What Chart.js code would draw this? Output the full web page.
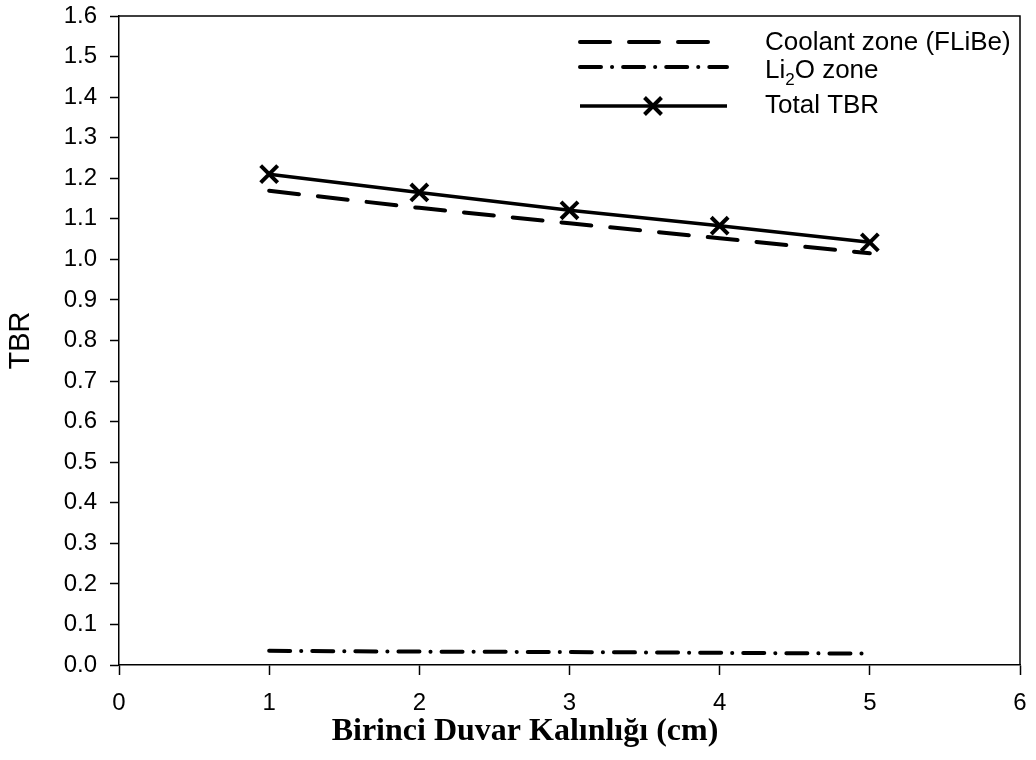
<!DOCTYPE html>
<html>
<head>
<meta charset="utf-8">
<script src="https://cdn.jsdelivr.net/npm/chart.js@4.4.1/dist/chart.umd.min.js"></script>
<style>
  html, body { margin: 0; padding: 0; background: #ffffff; }
  #wrap { width: 1036px; height: 760px; position: relative; }
</style>
</head>
<body>
<div id="wrap"><canvas id="c" width="1036" height="760"></canvas></div>
<script>
// First-wall thickness (cm)
const thickness = [1, 2, 3, 4, 5];
// Tritium breeding ratio per zone
const coolantTBR = [1.169, 1.127, 1.089, 1.052, 1.015];
const li2oTBR = [0.035, 0.033, 0.032, 0.030, 0.028];
const totalTBR = [1.210, 1.165, 1.121, 1.083, 1.042];

const xTitle = 'Birinci Duvar Kalınlığı (cm)';
const yTitle = 'TBR';
const legendRows = [
  { base: 'Coolant zone (FLiBe)' },
  { base: 'Li', sub: '2', rest: 'O zone' },
  { base: 'Total TBR' }
];

const pts = vals => thickness.map((x, i) => ({ x: x, y: vals[i] }));
const SANS = '"Liberation Sans", Arial, sans-serif';
const SERIF = '"Liberation Serif", "Times New Roman", serif';

// Closes the plot frame on top and right
const framePlugin = {
  id: 'frame',
  afterDraw(chart) {
    const { ctx, chartArea: a } = chart;
    ctx.save();
    ctx.strokeStyle = '#000';
    ctx.lineWidth = 1.5;
    ctx.beginPath();
    ctx.moveTo(a.left, a.top);
    ctx.lineTo(a.right, a.top);
    ctx.lineTo(a.right, a.bottom);
    ctx.stroke();
    ctx.restore();
  }
};

// Bold serif caption under the x axis, centred on the page width
const xTitlePlugin = {
  id: 'xCaption',
  afterDraw(chart) {
    const { ctx } = chart;
    ctx.save();
    ctx.fillStyle = '#000';
    ctx.font = 'bold 32px ' + SERIF;
    ctx.textAlign = 'center';
    ctx.textBaseline = 'alphabetic';
    ctx.fillText(xTitle, 525, 740);
    ctx.restore();
  }
};

// Legend with line samples and a subscript for Li2O
const legendPlugin = {
  id: 'subLegend',
  afterDraw(chart) {
    const { ctx } = chart;
    const x0 = 580, x1 = 727, tx = 765;
    const rowsY = [42, 67, 106];
    const textY = [43, 71, 106];
    ctx.save();
    chart.data.datasets.forEach((ds, i) => {
      const y = rowsY[i];
      ctx.strokeStyle = '#000';
      ctx.lineWidth = ds.borderWidth;
      ctx.lineCap = ds.borderCapStyle || 'butt';
      ctx.setLineDash(ds.borderDash || []);
      ctx.beginPath();
      ctx.moveTo(x0, y);
      ctx.lineTo(x1, y);
      ctx.stroke();
      ctx.setLineDash([]);
      if (ds.pointStyle === 'crossRot') {
        const cx = 653, r = 8.5;
        ctx.lineWidth = ds.pointBorderWidth;
        ctx.lineCap = 'butt';
        ctx.beginPath();
        ctx.moveTo(cx - r, y - r); ctx.lineTo(cx + r, y + r);
        ctx.moveTo(cx + r, y - r); ctx.lineTo(cx - r, y + r);
        ctx.stroke();
      }
      const row = legendRows[i];
      ctx.fillStyle = '#000';
      ctx.textBaseline = 'middle';
      ctx.textAlign = 'left';
      ctx.font = '26px ' + SANS;
      let cx = tx;
      ctx.fillText(row.base, cx, textY[i]);
      cx += ctx.measureText(row.base).width;
      if (row.sub) {
        ctx.font = '17px ' + SANS;
        ctx.fillText(row.sub, cx, textY[i] + 9);
        cx += ctx.measureText(row.sub).width;
        ctx.font = '26px ' + SANS;
        ctx.fillText(row.rest, cx, textY[i]);
      }
    });
    ctx.restore();
  }
};

new Chart(document.getElementById('c'), {
  type: 'line',
  data: {
    datasets: [
      {
        label: 'Coolant zone (FLiBe)',
        data: pts(coolantTBR),
        borderColor: '#000',
        borderWidth: 4,
        borderDash: [30, 19],
        borderCapStyle: 'round',
        pointRadius: 0,
        tension: 0
      },
      {
        label: 'Li2O zone',
        data: pts(li2oTBR),
        borderColor: '#000',
        borderWidth: 4,
        borderDash: [21, 11, 0.1, 11],
        borderCapStyle: 'round',
        pointRadius: 0,
        tension: 0
      },
      {
        label: 'Total TBR',
        data: pts(totalTBR),
        borderColor: '#000',
        borderWidth: 3.5,
        pointStyle: 'crossRot',
        pointRadius: 12,
        pointBorderWidth: 4,
        pointBorderColor: '#000',
        pointBackgroundColor: '#000',
        tension: 0
      }
    ]
  },
  options: {
    responsive: false,
    animation: false,
    events: [],
    layout: { padding: { top: 15, right: 15, left: 0, bottom: 0 } },
    plugins: {
      legend: { display: false },
      tooltip: { enabled: false }
    },
    scales: {
      x: {
        type: 'linear',
        min: 0,
        max: 6,
        ticks: {
          stepSize: 1,
          color: '#000',
          font: { family: SANS, size: 24 },
          padding: 14,
          maxRotation: 0
        },
        grid: {
          drawOnChartArea: false,
          drawTicks: true,
          tickLength: 10,
          tickWidth: 1.5,
          tickColor: '#000'
        },
        border: { display: true, color: '#000', width: 1.5 },
        title: { display: false },
        afterFit(scale) {
          scale.height = 95;
          scale.paddingLeft = 0;
          scale.paddingRight = 0;
        }
      },
      y: {
        type: 'linear',
        min: 0,
        max: 1.6,
        ticks: {
          stepSize: 0.1,
          color: '#000',
          font: { family: SANS, size: 24 },
          padding: 13,
          callback: v => Number(v).toFixed(1)
        },
        grid: {
          drawOnChartArea: false,
          drawTicks: true,
          tickLength: 9,
          tickWidth: 1.5,
          tickColor: '#000'
        },
        border: { display: true, color: '#000', width: 1.5 },
        title: {
          display: true,
          text: yTitle,
          color: '#000',
          font: { family: SANS, size: 29 },
          padding: { top: 4, bottom: 4 }
        },
        afterFit(scale) {
          scale.width = 119;
          scale.paddingTop = 0;
          scale.paddingBottom = 0;
        }
      }
    }
  },
  plugins: [framePlugin, xTitlePlugin, legendPlugin]
});
</script>
</body>
</html>
